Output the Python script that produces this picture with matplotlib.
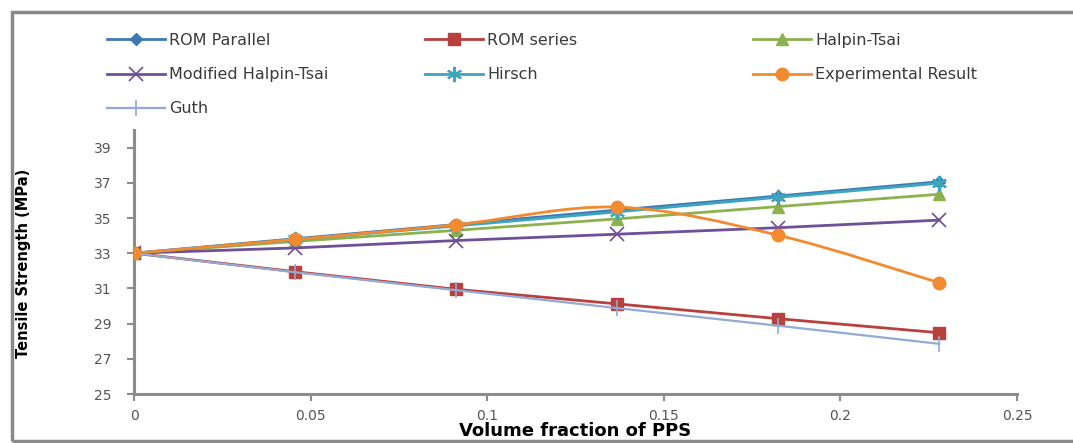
import matplotlib.pyplot as plt
from matplotlib.path import Path
from matplotlib.patches import PathPatch, Rectangle
from matplotlib.lines import Line2D

plt.rcParams["font.family"] = ["DejaVu Sans"]

# volume fraction of PPS
vf = [0.0, 0.0456, 0.0912, 0.1368, 0.1824, 0.228]

rom_parallel = [33.0, 33.82, 34.63, 35.45, 36.25, 37.06]
rom_series = [33.0, 31.95, 30.95, 30.12, 29.28, 28.48]
halpin_tsai = [33.0, 33.67, 34.3, 34.95, 35.65, 36.35]
mod_halpin_tsai = [33.0, 33.3, 33.72, 34.08, 34.45, 34.88]
hirsch = [33.0, 33.78, 34.55, 35.35, 36.18, 36.98]
experimental = [33.0, 33.78, 34.62, 35.62, 34.02, 31.32]
guth = [33.0, 31.92, 30.9, 29.88, 28.88, 27.85]

fig = plt.figure(figsize=(10.73, 4.43), dpi=100)
ax = fig.add_axes([0.1249, 0.1106, 0.8229, 0.5959])

# outer chart frame
fig.patches.append(Rectangle((12 / 1073, 2 / 443), 1.2, 429 / 443, transform=fig.transFigure,
                             fill=False, edgecolor="#8a8a8a", linewidth=2.5, clip_on=False))

lw = 2.0
h1, = ax.plot(vf, rom_parallel, color="#3d78b4", lw=lw, marker="D", ms=6, label="ROM Parallel")
h2, = ax.plot(vf, rom_series, color="#b8403d", lw=lw, marker="s", ms=9, label="ROM series")
h3, = ax.plot(vf, halpin_tsai, color="#8cb24e", lw=lw, marker="^", ms=9, label="Halpin-Tsai")
h4, = ax.plot(vf, mod_halpin_tsai, color="#6f4f98", lw=lw, marker="x", ms=10, mew=1.2,
              label="Modified Halpin-Tsai")
h5, = ax.plot(vf, hirsch, color="#3ea5bf", lw=lw, marker=(6, 2, 0), ms=11, mew=1.5, label="Hirsch")

# experimental: smoothed line (Excel style bezier through the points)
ec = "#f28a30"
verts = [(vf[0], experimental[0])]
codes = [Path.MOVETO]
n = len(vf)
for i in range(n - 1):
    x0, y0 = vf[max(i - 1, 0)], experimental[max(i - 1, 0)]
    x1, y1 = vf[i], experimental[i]
    x2, y2 = vf[i + 1], experimental[i + 1]
    x3, y3 = vf[min(i + 2, n - 1)], experimental[min(i + 2, n - 1)]
    verts += [(x1 + (x2 - x0) / 6, y1 + (y2 - y0) / 6),
              (x2 - (x3 - x1) / 6, y2 - (y3 - y1) / 6),
              (x2, y2)]
    codes += [Path.CURVE4] * 3
ax.add_patch(PathPatch(Path(verts, codes), fill=False, edgecolor=ec, lw=lw, zorder=2.5))
ax.plot(vf, experimental, ls="none", marker="o", ms=9, color=ec, zorder=2.6)
h6 = Line2D([], [], color=ec, lw=lw, marker="o", ms=9, label="Experimental Result")

h7, = ax.plot(vf, guth, color="#93a9d6", lw=1.6, marker="|", ms=11, mew=1.2, label="Guth")

ax.set_xlim(0, 0.25)
ax.set_ylim(25, 40)
ax.set_xticks([0, 0.05, 0.1, 0.15, 0.2, 0.25])
ax.set_xticklabels(["0", "0.05", "0.1", "0.15", "0.2", "0.25"])
ax.set_yticks(range(25, 40, 2))

for s in ["top", "right"]:
    ax.spines[s].set_visible(False)
for s in ["left", "bottom"]:
    ax.spines[s].set_color("#8c8c8c")
    ax.spines[s].set_linewidth(2.2)
ax.tick_params(axis="both", direction="out", length=5, width=1.5, color="#8c8c8c",
               labelcolor="#555555", labelsize=10)
ax.tick_params(axis="y", pad=11)
ax.tick_params(axis="x", pad=6)

ax.set_xlabel("Volume fraction of PPS", fontsize=13, fontweight="bold", labelpad=-1)
fig.text(0.022, 0.405, "Tensile Strength (MPa)", rotation=90, ha="center", va="center",
         fontsize=10.5, fontweight="bold", family=["Liberation Sans Narrow", "DejaVu Sans"])

columns = [([h1, h4, h7], 107), ([h2, h5], 425), ([h3, h6], 753)]
for handles, x0 in columns:
    leg = fig.legend(handles=handles, loc="upper left", bbox_to_anchor=(x0 / 1073, 1 - 33 / 443),
                     frameon=False, fontsize=11.5, handlelength=3.6, handletextpad=0.3,
                     borderpad=0, borderaxespad=0, labelspacing=1.2, labelcolor="#3a3a3a")

fig.savefig("out.png", dpi=100)
